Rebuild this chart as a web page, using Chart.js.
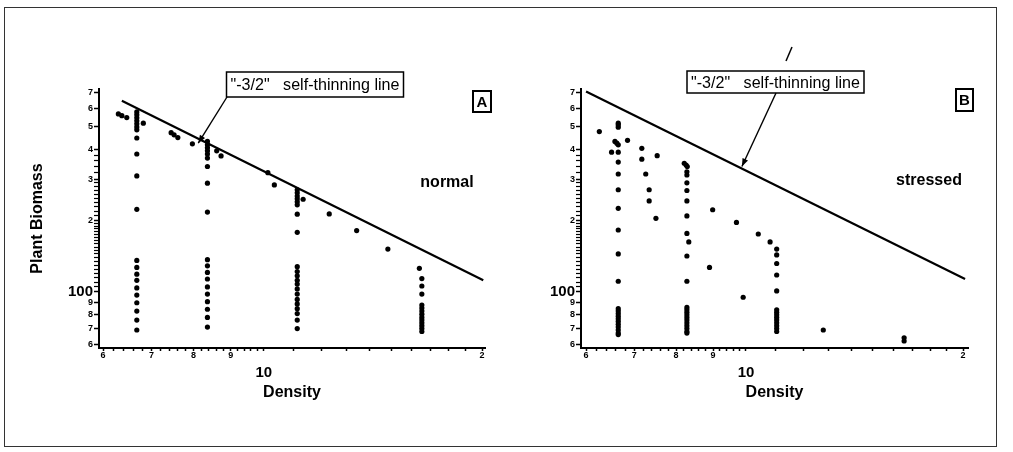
<!DOCTYPE html>
<html><head><meta charset="utf-8">
<script src="https://cdn.jsdelivr.net/npm/chart.js@4.4.0/dist/chart.umd.min.js"></script>
<style>
html,body{margin:0;padding:0;background:#fff;}
#wrap{position:relative;width:1013px;height:452px;overflow:hidden;background:#fff;}
#frame{position:absolute;left:4px;top:7px;width:993px;height:440px;border:1px solid #333;box-sizing:border-box;}
.holder{position:absolute;top:0;}
</style></head><body>
<div id="wrap">
<div id="frame"></div>
<div class="holder" style="left:0;width:506px;height:452px"><canvas id="cA" width="506" height="452"></canvas></div>
<div class="holder" style="left:506px;width:507px;height:452px"><canvas id="cB" width="507" height="452"></canvas></div>
</div>
<script>
// ---- data: panel A (normal) ----
const normalDensity = [6.30,6.37,6.47,
 6.68,6.68,6.68,6.68,6.68,6.68,6.68,6.68,6.68,6.68,6.68,6.68,6.68,6.68,6.68,6.68,6.68,6.68,6.68,6.68,6.68,
 6.82,7.45,7.52,7.61,7.97,
 8.36,8.36,8.36,8.36,8.36,8.36,8.36,8.36,8.36,8.36,8.36,8.36,8.36,8.36,8.36,8.36,8.36,8.36,8.36,
 8.61,8.73,10.13,10.34,
 11.12,11.12,11.12,11.12,11.12,11.12,11.12,11.12,11.12,11.12,11.12,11.12,11.12,11.12,11.12,11.12,11.12,11.12,11.12,11.12,11.12,
 11.33,12.31,13.43,14.83,16.39,
 16.52,16.52,16.52,16.52,16.52,16.52,16.52,16.52,16.52,16.52,16.52,16.52,16.52];
const normalBiomass = [568,558,548,
 579,563,547,531,516,500,486,449,384,310,224,136,127,119,112,104,97,90,83,76,69,
 519,473,463,451,424,
 434,420,408,396,384,369,340,289,218,137,129,121,113.5,105,98,91,84.5,78,71,
 396,377,320,284,
 271,263,255,248,241,234,213.5,179,128,122,117,112,108,103,98,93,89,85,81,76,70,
 247,214,182,152,126,
 114,106,98,88,85.5,83,80.5,78,76,74,72,70,68];
// ---- data: panel B (stressed) ----
const stressedDensity = [6.26,
 6.65,6.65,6.65,6.65,6.65,6.65,6.65,6.65,6.65,6.65,6.65,6.65,6.65,6.65,6.65,6.65,6.65,6.65,6.65,6.65,6.65,6.65,6.65,
 6.58,6.62,6.51,6.85,7.17,7.17,7.26,7.34,7.34,7.50,7.53,8.21,8.26,8.29,
 8.28,8.28,8.28,8.28,8.28,8.28,8.28,8.28,8.28,8.28,8.28,8.28,8.28,8.28,8.28,8.28,8.28,8.28,8.28,8.28,
 8.33,8.99,8.90,9.70,9.91,10.40,10.80,
 11.03,11.03,11.03,11.03,11.03,11.03,11.03,11.03,11.03,11.03,11.03,11.03,11.03,11.03,
 12.80,16.57,16.57];
const stressedBiomass = [478,
 519,510,499,420,391,355,316,271,226,183,145,111,85,83,81,79,77,75,73,71,69,67,66,
 434,427,391,439,406,365,316,271,243,205,378,351,345,340,
 323,313,290,269,243,210,177,142,111,86,84,82,80,78,76,74,72,70,68,67,
 163,223,127,197,95,176,163,
 152,143.5,132,118,101,84,82,80,78,76,74,72,70,68,
 69,64,62];
// ---- "-3/2" self-thinning lines ----
const lineDensityA = [6.37, 20.08];
const lineBiomassA = [646, 112];
const lineDensityB = [6.0, 20.13];
const lineBiomassB = [706, 113.5];
// ---- ticks ----
const xMajor = [6,7,8,9,10,20];
const xTickLabels = ['6','7','8','9','10','2'];
const xMinor = [6.2,6.4,6.6,6.8,7.2,7.4,7.6,7.8,8.2,8.4,8.6,8.8,9.2,9.4,9.6,9.8,11,12,13,14,15,16,17,18,19];
const yMajor = [60,70,80,90,100,200,300,400,500,600,700];
const yTickLabels = ['6','7','8','9','100','2','3','4','5','6','7'];
const yMinor = [105,110,115,120,125,130,135,140,145,150,155,160,165,170,175,180,185,190,195,210,220,230,240,250,260,270,280,290,320,340,360,380];

const FAM = "'Liberation Sans', Arial, Helvetica, sans-serif";
const NARROW = "'Liberation Sans Narrow', 'Liberation Sans', Arial, sans-serif";

const notes = {
  id: 'notes',
  afterDraw(chart, args, o) {
    const ctx = chart.ctx, xs = chart.scales.x, ys = chart.scales.y;
    ctx.save();
    ctx.strokeStyle = '#000'; ctx.fillStyle = '#000';
    // label box
    const b = o.box;
    ctx.lineWidth = 1.5;
    ctx.fillStyle = '#fff'; ctx.fillRect(b[0], b[1], b[2], b[3]);
    ctx.strokeRect(b[0], b[1], b[2], b[3]);
    ctx.fillStyle = '#000';
    ctx.font = "17px " + NARROW;
    ctx.textAlign = 'center'; ctx.textBaseline = 'middle';
    ctx.fillText('"-3/2"   self-thinning line', b[0] + b[2] / 2, b[1] + b[3] / 2 + 1, b[2] - 8);
    // arrow
    const tx = xs.getPixelForValue(o.tip[0]), ty = ys.getPixelForValue(o.tip[1]);
    const fx = o.from[0], fy = o.from[1];
    ctx.lineWidth = 1.4;
    ctx.beginPath(); ctx.moveTo(fx, fy); ctx.lineTo(tx, ty); ctx.stroke();
    const ang = Math.atan2(ty - fy, tx - fx), L = 8, W = 3;
    ctx.beginPath();
    ctx.moveTo(tx, ty);
    ctx.lineTo(tx - L * Math.cos(ang) + W * Math.sin(ang), ty - L * Math.sin(ang) - W * Math.cos(ang));
    ctx.lineTo(tx - L * Math.cos(ang) - W * Math.sin(ang), ty - L * Math.sin(ang) + W * Math.cos(ang));
    ctx.closePath(); ctx.fill();
    if (o.stray) {
      ctx.lineWidth = 1.5;
      ctx.beginPath(); ctx.moveTo(o.stray[0], o.stray[1]); ctx.lineTo(o.stray[2], o.stray[3]); ctx.stroke();
    }
    // letter box
    const lb = o.letterBox;
    ctx.lineWidth = 2;
    ctx.strokeRect(lb[0], lb[1], lb[2], lb[3]);
    ctx.font = "bold 15px " + FAM;
    ctx.fillText(o.letter, lb[0] + lb[2] / 2, lb[1] + lb[3] / 2 + 1);
    // condition
    ctx.font = "bold 16px " + FAM;
    ctx.fillText(o.cond, o.condPos[0], o.condPos[1]);
    ctx.restore();
  }
};

function makeChart(id, dens, bio, lx, ly, cfg) {
  const pts = dens.map((d, i) => ({x: d, y: bio[i]}));
  const line = lx.map((d, i) => ({x: d, y: ly[i]}));
  const xTicks = xMajor.concat(xMinor).sort((a, b) => a - b);
  const yTicks = yMajor.concat(yMinor).sort((a, b) => a - b);
  return new Chart(document.getElementById(id), {
    type: 'scatter',
    data: {datasets: [
      {type: 'line', data: line, borderColor: '#000', borderWidth: 2.2, pointRadius: 0, fill: false, order: 0},
      {data: pts, backgroundColor: '#000', borderWidth: 0, pointRadius: 2.6, pointHoverRadius: 2.6, order: 1}
    ]},
    options: {
      responsive: false, animation: false, events: [],
      layout: {padding: cfg.pad},
      plugins: {legend: {display: false}, tooltip: {enabled: false}, notes: cfg.notes},
      scales: {
        x: {
          type: 'logarithmic', position: 'bottom', min: cfg.xmin, max: cfg.xmax,
          afterBuildTicks: s => { s.ticks = xTicks.map(v => ({value: v})); },
          afterFit: s => { s.height = 57; },
          ticks: {
            autoSkip: false, maxRotation: 0, minRotation: 0, padding: 0, color: '#000',
            font: c => (c.tick && c.tick.value === 10) ? {family: FAM, size: 15, weight: 'bold', lineHeight: 0.95} : {family: FAM, size: 9, weight: 'bold', lineHeight: 1},
            callback: v => { const i = xMajor.indexOf(v); if (i < 0) return ''; return v === 10 ? ['', xTickLabels[i]] : xTickLabels[i]; }
          },
          grid: {display: true, drawOnChartArea: false, drawTicks: true, tickLength: 3, tickColor: '#000', tickWidth: 1.5},
          border: {display: true, color: '#000', width: 2},
          title: {display: true, text: 'Density', color: '#000', font: {family: FAM, size: 16, weight: 'bold', lineHeight: 1.2}, padding: {top: 4, bottom: 3}}
        },
        y: {
          type: 'logarithmic', position: 'left', min: 57.9, max: 724,
          afterBuildTicks: s => { s.ticks = yTicks.map(v => ({value: v})); },
          afterFit: s => { s.width = cfg.yw; },
          ticks: {
            autoSkip: false, padding: 1, color: '#000',
            font: c => (c.tick && c.tick.value === 100) ? {family: FAM, size: 15, weight: 'bold'} : {family: FAM, size: 9, weight: 'bold'},
            callback: v => { const i = yMajor.indexOf(v); return i < 0 ? '' : yTickLabels[i]; }
          },
          grid: {display: true, drawOnChartArea: false, drawTicks: true, tickLength: 5, tickColor: '#000',
                 tickWidth: c => (c.tick && yMajor.includes(c.tick.value)) ? 1.5 : 1.2},
          border: {display: true, color: '#000', width: 2},
          title: {display: cfg.ytitle, text: 'Plant Biomass', color: '#000', font: {family: FAM, size: 16, weight: 'bold', lineHeight: 1.2}, padding: {top: 28, bottom: 4}}
        }
      }
    },
    plugins: [notes]
  });
}

makeChart('cA', normalDensity, normalBiomass, lineDensityA, lineBiomassA, {
  pad: {left: 0, right: 21, top: 89, bottom: 47}, xmin: 5.924, xmax: 20.19, yw: 99, ytitle: true,
  notes: {box: [226.5, 72, 177, 25], from: [227, 97], tip: [8.12, 427], letterBox: [473, 91, 18, 21], letter: 'A', cond: 'normal', condPos: [447, 183], stray: null}
});
makeChart('cB', stressedDensity, stressedBiomass, lineDensityB, lineBiomassB, {
  pad: {left: 0, right: 45, top: 89, bottom: 47}, xmin: 5.904, xmax: 20.32, yw: 75, ytitle: false,
  notes: {box: [181, 71, 177, 22], from: [270, 93], tip: [9.87, 340], letterBox: [450, 89, 17, 22], letter: 'B', cond: 'stressed', condPos: [423, 181], stray: [280, 61, 286, 47]}
});
</script>
</body></html>
